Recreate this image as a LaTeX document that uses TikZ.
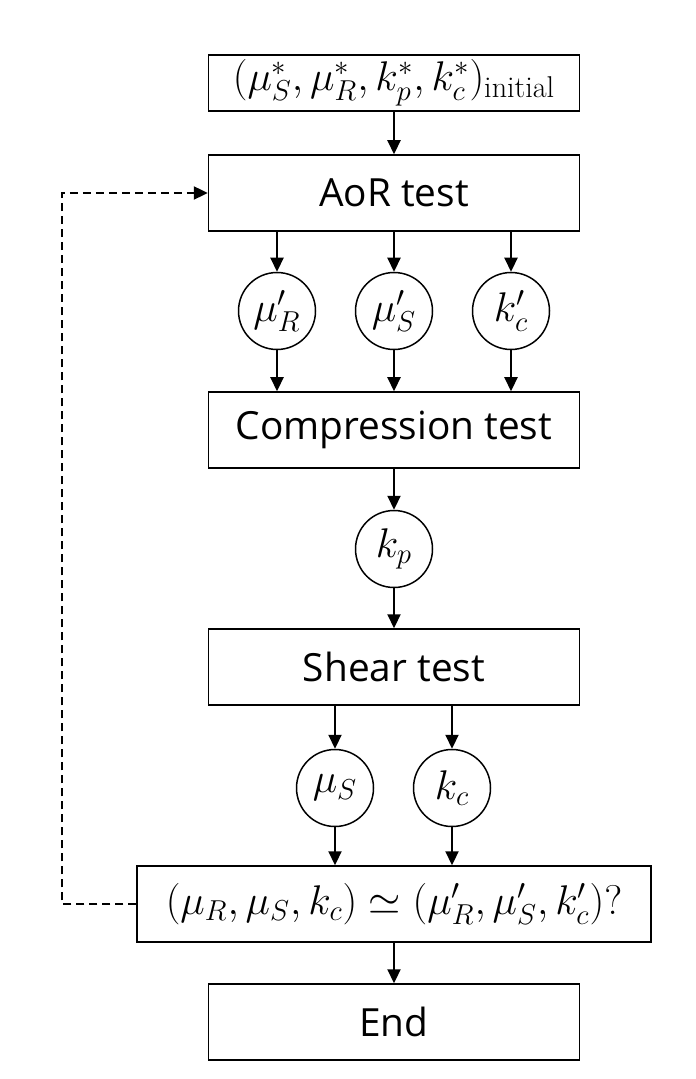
\documentclass[tikz,border=0pt]{standalone}
\usepackage{fontspec}
\setsansfont{Open Sans}
\usetikzlibrary{%
  arrows.meta,%
  positioning,% wg. " of "
  calc
}

\begin{document}
\begin{tikzpicture}
[x=0.5pt, y=-0.5pt, font=\sffamily\fontsize{19.4}{23}\selectfont, line width=0.75pt,
step box/.style={rectangle, draw, inner sep=0pt, minimum width=185.5pt, minimum height=38pt},
wide box/.style={rectangle, draw, inner sep=0pt, minimum width=257pt, minimum height=38pt},
par/.style={circle, draw, inner sep=0pt, minimum size=38.5pt},
mth/.style={font=\fontsize{21.5}{25}\selectfont},
flow/.style={-{Triangle[length=7pt, width=6.5pt]}, line width=1.1pt},
loop/.style={-{Triangle[length=7pt, width=6.5pt]}, line width=1.2pt, dash pattern=on 4pt off 2.5pt}
]
\useasboundingbox (0,0) rectangle (695,1079);

\node[step box, mth, minimum height=28pt] (init) at (394,83) {$(\mu_S^*,\mu_R^*,k_p^*,k_c^*)_{\mathrm{initial}}$};
\node[step box] (aor) at (394,193) {AoR test};

\node[par, mth] (muR1) at (277,311) {$\mu_R'$};
\node[par, mth] (muS1) at (394,311) {$\mu_S'$};
\node[par, mth] (kc1) at (511,311) {$k_c'$};

\node[step box] (comp) at (394,430) {Compression test};
\node[par, mth] (kp) at (394,549) {$k_p$};
\node[step box] (shear) at (394,667) {Shear test};

\node[par, mth] (muS2) at (335,788) {$\mu_S$};
\node[par, mth] (kc2) at (452,788) {$k_c$};

\node[wide box, mth] (check) at (394,904) {$(\mu_R,\mu_S,k_c)\simeq(\mu_R',\mu_S',k_c')?$};
\node[step box] (fin) at (394,1022) {End};

\draw[flow] (init) -- (aor);

\draw[flow] (aor.south -| muR1) -- (muR1);
\draw[flow] (aor.south -| muS1) -- (muS1);
\draw[flow] (aor.south -| kc1) -- (kc1);
\draw[flow] (muR1) -- (comp.north -| muR1);
\draw[flow] (muS1) -- (comp.north -| muS1);
\draw[flow] (kc1) -- (comp.north -| kc1);

\draw[flow] (comp) -- (kp);
\draw[flow] (kp) -- (shear);

\draw[flow] (shear.south -| muS2) -- (muS2);
\draw[flow] (shear.south -| kc2) -- (kc2);
\draw[flow] (muS2) -- (check.north -| muS2);
\draw[flow] (kc2) -- (check.north -| kc2);

\draw[flow] (check) -- (fin);

% back to the start
\coordinate (back) at (62,904);
\draw[loop] (check.west) -- (back) |- (aor.west);
\end{tikzpicture}
\end{document}
